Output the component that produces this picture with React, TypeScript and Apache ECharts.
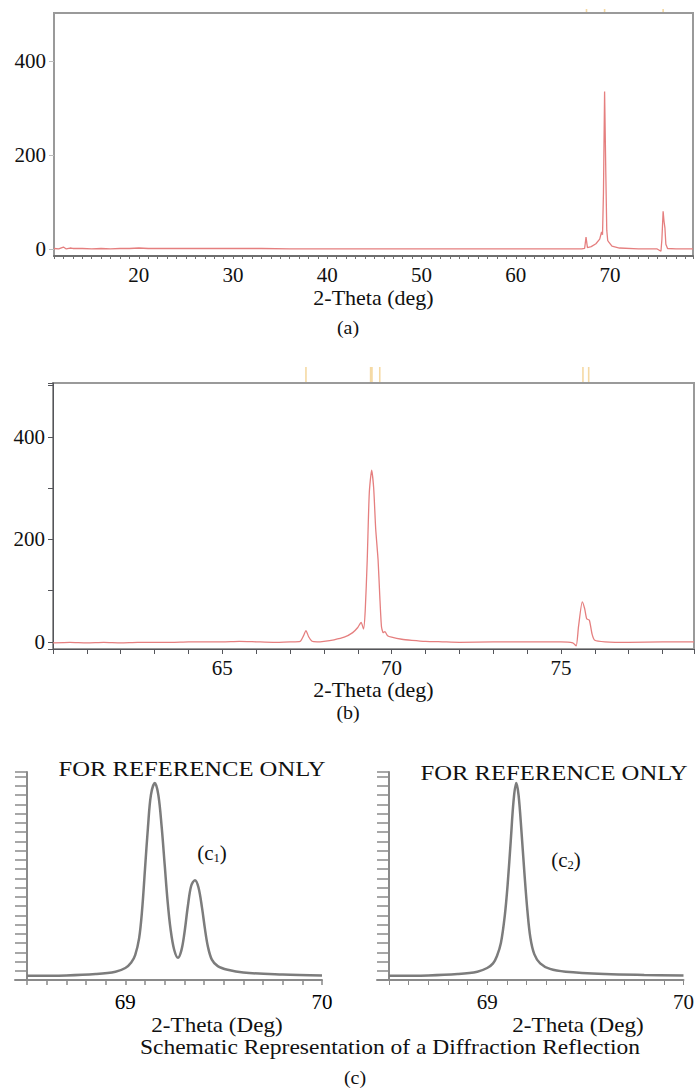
import React, { useEffect, useRef } from "react";
import * as echarts from "echarts";

const serif = "Liberation Serif";

// ---------- Panel (a): full scan ----------
const aXLabels = [20, 30, 40, 50, 60, 70];
const aYLabels = [0, 200, 400];
const aTheta = [11, 11.5, 12, 12.3, 12.7, 13, 14, 15, 16, 17, 18, 19, 20, 21, 22, 24, 26, 28, 30, 33, 36, 40, 45, 50, 55, 60, 64, 66, 67, 67.3, 67.45, 67.6, 68, 68.5, 68.9, 69.1, 69.2, 69.3, 69.42, 69.55, 69.65, 69.75, 69.85, 70.2, 71, 73, 75, 75.4, 75.5, 75.63, 75.72, 75.82, 75.92, 76.1, 77, 78.8];
const aCounts = [1, 0, 4, 0, 2, 1, 1, 0, 1, 0, 1, 1, 2, 1, 1, 1, 1, 1, 1, 1, 0, 0, 0, 0, 0, 0, 0, 0, 0, 1, 25, 3, 5, 11, 21, 36, 30, 120, 335, 160, 40, 18, 15, 6, 2, 0, 0, -5, 20, 80, 60, 45, 10, 1, 0, 0];
const aRefPeaks = [67.5, 69.42, 75.63];

// ---------- Panel (b): zoom 60-79 ----------
const bXLabels = [65, 70, 75];
const bYLabels = [0, 200, 400];
const bTheta = [60, 60.5, 61, 61.5, 62, 62.5, 63, 63.5, 64, 64.5, 65, 65.5, 66, 66.5, 67, 67.3, 67.4, 67.47, 67.55, 67.65, 67.8, 68, 68.3, 68.6, 68.85, 69.0, 69.1, 69.17, 69.22, 69.28, 69.34, 69.41, 69.47, 69.53, 69.6, 69.65, 69.7, 69.75, 69.8, 69.88, 70, 70.3, 70.6, 71, 71.5, 72, 73, 74, 75, 75.35, 75.45, 75.52, 75.63, 75.7, 75.76, 75.84, 75.92, 76, 76.3, 77, 78, 78.93];
const bCounts = [-2, -1, -2, -1, -2, -1, -1, -1, 0, 0, 0, 1, 0, -1, 0, 1, 12, 22, 10, 1, 0, 1, 4, 9, 18, 28, 38, 25, 60, 160, 290, 335, 300, 220, 160, 90, 30, 18, 20, 12, 9, 5, 3, 1, 0, -1, 0, 0, 0, -2, -8, 30, 78, 65, 45, 42, 15, 3, 0, -1, 0, 0];
const bRefPeaks = [67.47, 69.38, 69.42, 69.65, 75.65, 75.82];

// ---------- Panel (c): schematic reflections ----------
const cXLabels = [69, 70];
const cXTicks = [68.5, 68.6, 68.7, 68.8, 68.9, 69.0, 69.1, 69.2, 69.3, 69.4, 69.5, 69.6, 69.7, 69.8, 69.9, 70.0];
const c1Theta = [68.5, 68.7, 68.85, 68.95, 69.0, 69.03, 69.05, 69.07, 69.085, 69.1, 69.115, 69.13, 69.15, 69.168, 69.185, 69.2, 69.215, 69.23, 69.248, 69.268, 69.285, 69.3, 69.318, 69.335, 69.354, 69.372, 69.39, 69.405, 69.42, 69.44, 69.47, 69.52, 69.6, 69.8, 70];
const c1Intensity = [0.45, 0.5, 0.65, 0.9, 1.3, 1.9, 2.7, 4.5, 7.5, 12, 16.5, 20, 21.3, 20, 16.5, 12.5, 8.5, 5.5, 3.3, 2.4, 3.2, 5, 8, 10.2, 10.8, 10.0, 7.8, 5.5, 3.6, 2.2, 1.5, 1.1, 0.8, 0.6, 0.5];
const c2Theta = [68.5, 68.7, 68.85, 68.95, 69.0, 69.03, 69.05, 69.07, 69.09, 69.105, 69.12, 69.135, 69.148, 69.16, 69.175, 69.19, 69.205, 69.22, 69.24, 69.27, 69.32, 69.4, 69.6, 69.8, 70];
const c2Intensity = [0.45, 0.5, 0.65, 0.9, 1.3, 1.8, 2.6, 4, 7, 10.5, 15, 19.5, 21.3, 20, 16, 11.5, 7.5, 4.6, 2.8, 1.8, 1.2, 0.9, 0.65, 0.55, 0.5];

const zip = (xs: number[], ys: number[]) => xs.map((x, i) => [x, ys[i]]);

const redLine = { color: "#e57f7f", width: 1.3 };
const greyCurve = { color: "#7c7c7c", width: 2.5 };

function refMarks(peaks: number[], yTop: number, len: number) {
  return {
    type: "scatter",
    clip: false,
    silent: true,
    symbol: "rect",
    symbolSize: [1.6, len],
    symbolOffset: [0, -(len / 2 + 1)],
    itemStyle: { color: "#f2cf8c" },
    data: peaks.map((p) => [p, yTop]),
  };
}

// variant flags per panel to pin down which option drops the label font
function topPanel(
  grid: any, xMin: number, xMax: number, xLabels: number[], yMin: number, yMax: number, yLabels: number[],
  nameGap: number, data: number[][], smooth: number, marks: any, variant: "noMargin" | "plainAxis"
) {
  const xLabel: any = { customValues: xLabels, fontFamily: serif, fontSize: 21, color: "#111" };
  const yLabel: any = { customValues: yLabels, fontFamily: serif, fontSize: 21, color: "#111" };
  const x: any = {
    type: "value",
    min: xMin,
    max: xMax,
    interval: 1,
    name: "2-Theta (deg)",
    nameLocation: "middle",
    nameGap,
    nameTextStyle: { fontFamily: serif, fontSize: 22, color: "#111" },
    axisLabel: xLabel,
    splitLine: { show: false },
  };
  const y: any = {
    type: "value",
    min: yMin,
    max: yMax,
    axisLabel: yLabel,
    splitLine: { show: false },
  };
  if (variant === "noMargin") {
    x.axisLine = { show: true, onZero: false, lineStyle: { color: "#6e6e6e", width: 2 } };
    x.axisTick = { show: true, length: 3, lineStyle: { color: "#6e6e6e", width: 1 } };
    y.axisLine = { show: true, onZero: false, lineStyle: { color: "#9a9a9a", width: 2 } };
    y.axisTick = { show: true, customValues: yLabels, length: 5, lineStyle: { color: "#bdbdbd" } };
  } else {
    xLabel.margin = 8;
    yLabel.margin = 8;
    x.axisLine = { onZero: false };
    y.axisLine = { show: true };
  }
  return {
    animation: false,
    grid: { ...grid, show: true, borderColor: "#9a9a9a", borderWidth: 2 },
    xAxis: x,
    yAxis: y,
    series: [
      { type: "line", data, showSymbol: false, smooth, lineStyle: redLine },
      marks,
    ],
  };
}

function schematicPanel(grid: any, data: number[][], graphic: any[], variant: "black" | "plainTick") {
  const label: any = { customValues: cXLabels, fontFamily: serif, fontSize: 21, margin: 11 };
  label.color = variant === "black" ? "#000" : "#111";
  const tick: any = variant === "black"
    ? { show: true, customValues: cXTicks, length: 5, lineStyle: { color: "#8a8a8a", width: 1.5 } }
    : { customValues: cXTicks };
  return {
    animation: false,
    grid,
    xAxis: {
      type: "value",
      min: 68.439,
      max: 70,
      axisLine: { show: true, onZero: false, lineStyle: { color: "#8a8a8a", width: 2 } },
      axisTick: tick,
      axisLabel: label,
      splitLine: { show: false },
    },
    yAxis: {
      type: "value",
      min: 0,
      max: 22.5,
      interval: 1,
      offset: -12,
      axisLine: { show: true, onZero: false, lineStyle: { color: "#8a8a8a", width: 2 } },
      axisTick: { show: true, length: 12, lineStyle: { color: "#8a8a8a", width: 1.5 } },
      axisLabel: { show: false },
      splitLine: { show: false },
    },
    series: [{ type: "line", data, showSymbol: false, smooth: 0.35, lineStyle: greyCurve }],
    graphic,
  };
}

function caption(text: string, x: number, y: number, size: number, sx: number, rich?: any) {
  const style: any = {
    text,
    fontFamily: serif,
    fontSize: size,
    fill: "#111",
    textAlign: "center",
    textVerticalAlign: "middle",
  };
  if (rich) style.rich = rich;
  return { type: "text", x, y, scaleX: sx, silent: true, style };
}

const subRich = {
  sub: { fontFamily: serif, fontSize: 12, fill: "#111", padding: [10, 0, 0, 0] },
};

function Panel({ option }: { option: any }) {
  const ref = useRef<HTMLDivElement>(null);
  useEffect(() => {
    if (!ref.current) return;
    const chart = echarts.init(ref.current, null, { renderer: "svg" });
    chart.setOption(option);
    return () => chart.dispose();
  }, [option]);
  return (
    <div
      ref={ref}
      style={{ position: "absolute", left: 0, top: 0, width: 697, height: 1089, pointerEvents: "none" }}
    />
  );
}

const optA = topPanel({ left: 54, top: 13, width: 639, height: 243 }, 11, 78.8, aXLabels, -15, 502, aYLabels, 30, zip(aTheta, aCounts), 0, refMarks(aRefPeaks, 502, 3), "noMargin");
const optB = topPanel({ left: 53, top: 383, width: 641, height: 266 }, 60, 78.93, bXLabels, -14, 505, bYLabels, 25, zip(bTheta, bCounts), 0.2, refMarks(bRefPeaks, 505, 15), "plainAxis");
const optC1 = schematicPanel({ left: 15, top: 772, width: 307, height: 208 }, zip(c1Theta, c1Intensity), [
  caption("(a)", 348, 328, 19, 1.05),
  caption("(b)", 348, 713, 19, 1.05),
  caption("FOR REFERENCE ONLY", 192, 768, 22, 1.12),
  caption("(c{sub|1})", 212, 853, 20, 1.05, subRich),
  caption("2-Theta (Deg)", 217, 1025, 21, 1.1),
  caption("Schematic Representation of a Diffraction Reflection", 390, 1047, 21, 1.12),
  caption("(c)", 355, 1078, 19, 1.05),
], "black");
const optC2 = schematicPanel({ left: 377, top: 772, width: 309, height: 208 }, zip(c2Theta, c2Intensity), [
  caption("FOR REFERENCE ONLY", 554, 772, 22, 1.12),
  caption("(c{sub|2})", 566, 860, 20, 1.05, subRich),
  caption("2-Theta (Deg)", 578, 1025, 21, 1.1),
], "plainTick");

export default function App() {
  return (
    <div style={{ position: "absolute", left: 0, top: 0, width: 697, height: 1089, background: "#fff" }}>
      <Panel option={optA} />
      <Panel option={optB} />
      <Panel option={optC1} />
      <Panel option={optC2} />
    </div>
  );
}
